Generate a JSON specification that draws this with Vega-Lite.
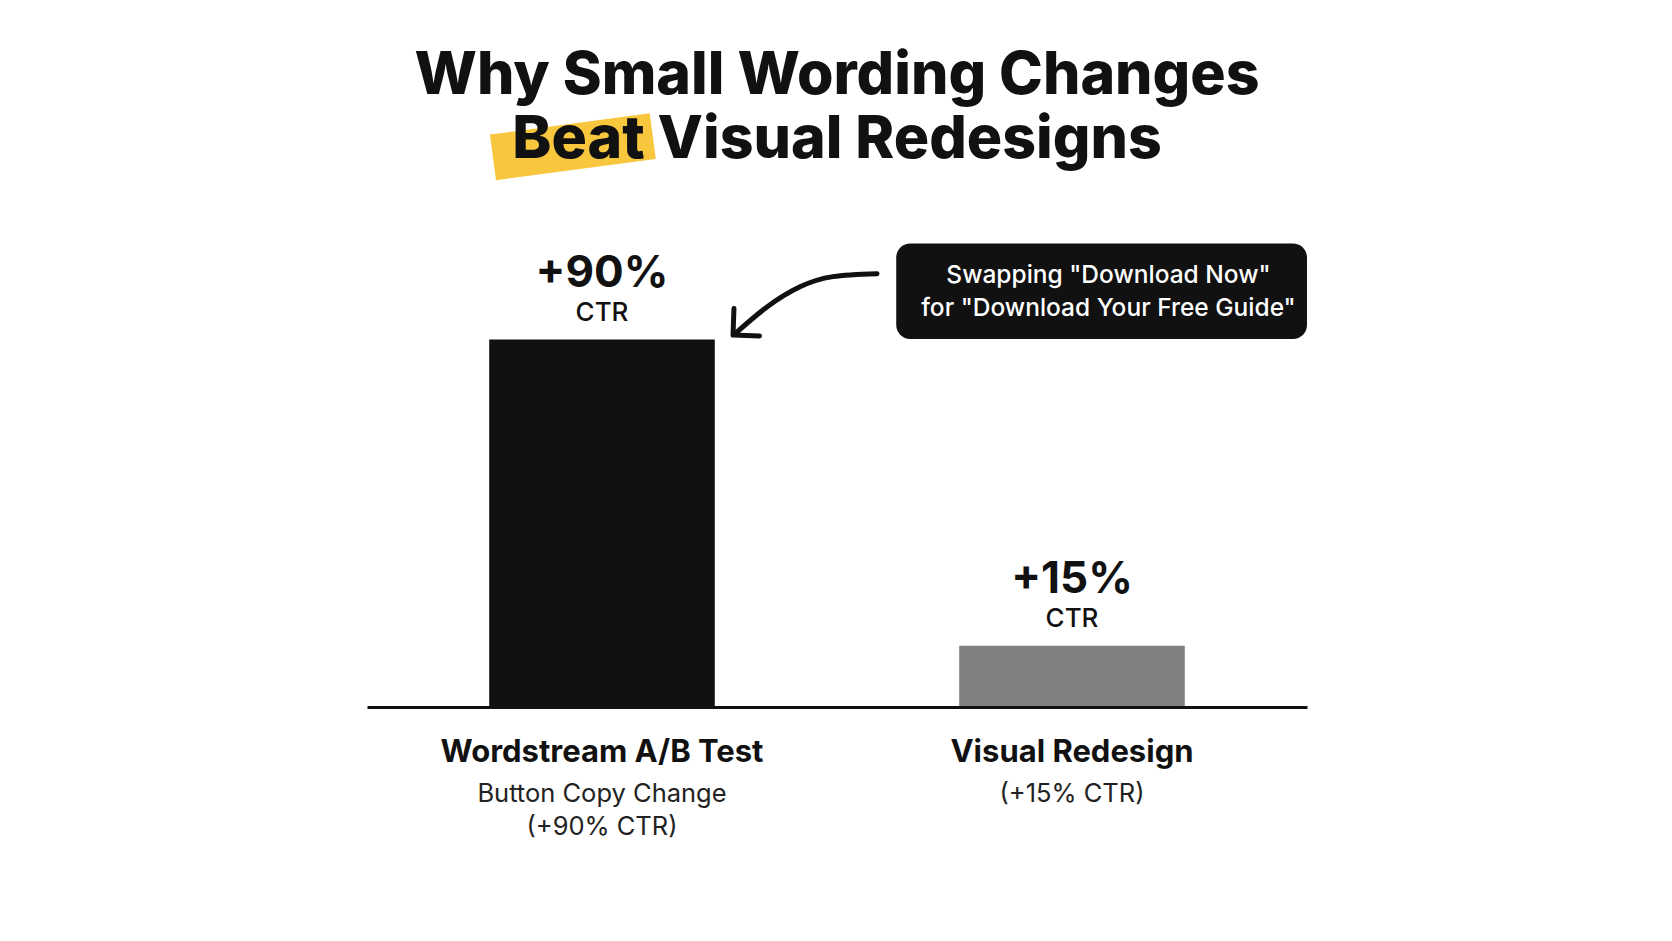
{
  "$schema": "https://vega.github.io/schema/vega-lite/v6.json",
  "width": 940,
  "height": 490,
  "autosize": {"type": "none"},
  "padding": {"left": 367, "top": 217, "right": 365, "bottom": 234},
  "background": "#ffffff",
  "config": {"view": {"stroke": null}, "font": "Inter"},
  "data": {
    "values": [
      {"category": "Wordstream A/B Test", "value": 90, "label": "+90%", "unit": "CTR", "sub": ["Button Copy Change", "(+90% CTR)"]},
      {"category": "Visual Redesign", "value": 15, "label": "+15%", "unit": "CTR", "sub": ["(+15% CTR)"]}
    ]
  },
  "layer": [
    {
      "encoding": {
        "x": {
          "field": "category",
          "type": "nominal",
          "sort": null,
          "scale": {"domain": ["Wordstream A/B Test", "Visual Redesign"], "paddingInner": 0.52, "paddingOuter": 0.26},
          "axis": {
            "title": null,
            "labelFontSize": 31,
            "labelFontWeight": "bold",
            "labelColor": "#111111",
            "labelPadding": 30,
            "labelLimit": 0,
            "ticks": false,
            "domainColor": "#111111",
            "domainWidth": 3,
            "labelAngle": 0,
            "zindex": 1,
            "labelFont": "Inter"
          }
        }
      },
      "layer": [
        {
          "mark": {"type": "bar"},
          "encoding": {
            "y": {"field": "value", "type": "quantitative", "scale": {"domain": [0, 120], "nice": false}, "axis": null},
            "color": {"field": "category", "type": "nominal", "scale": {"domain": ["Wordstream A/B Test", "Visual Redesign"], "range": ["#111111", "#808080"]}, "legend": null}
          }
        },
        {
          "mark": {"type": "text", "fontSize": 44, "fontWeight": "bold", "color": "#111111", "baseline": "middle", "dy": -66},
          "encoding": {
            "y": {"field": "value", "type": "quantitative"},
            "text": {"field": "label"}
          }
        },
        {
          "mark": {"type": "text", "fontSize": 26, "fontWeight": 500, "color": "#111111", "baseline": "middle", "dy": -27},
          "encoding": {
            "y": {"field": "value", "type": "quantitative"},
            "text": {"field": "unit"}
          }
        },
        {
          "mark": {"type": "text", "fontSize": 25.5, "fontWeight": "normal", "color": "#222222", "baseline": "middle", "dy": 87, "lineHeight": 33},
          "encoding": {
            "y": {"datum": 0, "type": "quantitative"},
            "text": {"field": "sub"}
          }
        }
      ]
    },
    {
      "encoding": {
        "x": {"type": "quantitative", "scale": {"domain": [0, 100], "nice": false, "zero": false}, "axis": null}
      },
      "layer": [
        {
          "data": {"values": [{}]},
          "mark": {"type": "rule", "color": "#F8C73E", "strokeWidth": 46, "strokeCap": "butt"},
          "encoding": {
            "x": {"datum": 13.4, "type": "quantitative"},
            "x2": {"datum": 30.4},
            "y": {"datum": 134.6, "type": "quantitative"},
            "y2": {"datum": 139.8}
          }
        },
        {
          "data": {"values": [{}]},
          "mark": {"type": "text", "text": ["Why Small Wording Changes", "Beat Visual Redesigns"], "color": "#111111", "fontSize": 59, "fontWeight": 800, "baseline": "middle", "align": "center", "lineHeight": 64},
          "encoding": {
            "x": {"datum": 50, "type": "quantitative"},
            "y": {"datum": 154.6, "type": "quantitative"}
          }
        },
        {
          "data": {"values": [{}]},
          "mark": {"type": "rect", "color": "#111111", "cornerRadius": 14},
          "encoding": {
            "x": {"datum": 56.3, "type": "quantitative"},
            "x2": {"datum": 100},
            "y": {"datum": 113.5, "type": "quantitative"},
            "y2": {"datum": 90.1}
          }
        },
        {
          "data": {"values": [{}]},
          "mark": {"type": "text", "text": ["Swapping \"Download Now\"", "for \"Download Your Free Guide\""], "color": "#ffffff", "fontSize": 24.5, "fontWeight": 500, "baseline": "middle", "align": "center", "lineHeight": 33},
          "encoding": {
            "x": {"datum": 78.88, "type": "quantitative"},
            "y": {"datum": 105.6, "type": "quantitative"}
          }
        },
        {
          "data": {"values": [
            {"ax": 54.26, "ay": 106.1},
            {"ax": 49.57, "ay": 105.4},
            {"ax": 46.06, "ay": 102.9},
            {"ax": 42.55, "ay": 97.96},
            {"ax": 39.1, "ay": 91.3}
          ]},
          "mark": {"type": "line", "color": "#111111", "strokeWidth": 5, "strokeCap": "round", "interpolate": "natural"},
          "encoding": {
            "x": {"field": "ax", "type": "quantitative"},
            "y": {"field": "ay", "type": "quantitative"}
          }
        },
        {
          "data": {"values": [{}]},
          "mark": {"type": "point", "shape": "M -1 -1 L 0 0 L -1 1", "filled": false, "stroke": "#111111", "strokeWidth": 5, "strokeCap": "round", "strokeJoin": "round", "size": 1400, "angle": 137, "opacity": 1},
          "encoding": {
            "x": {"datum": 38.94, "type": "quantitative"},
            "y": {"datum": 91.1, "type": "quantitative"}
          }
        }
      ]
    }
  ],
  "resolve": {"scale": {"x": "independent"}, "axis": {"x": "independent"}}
}
